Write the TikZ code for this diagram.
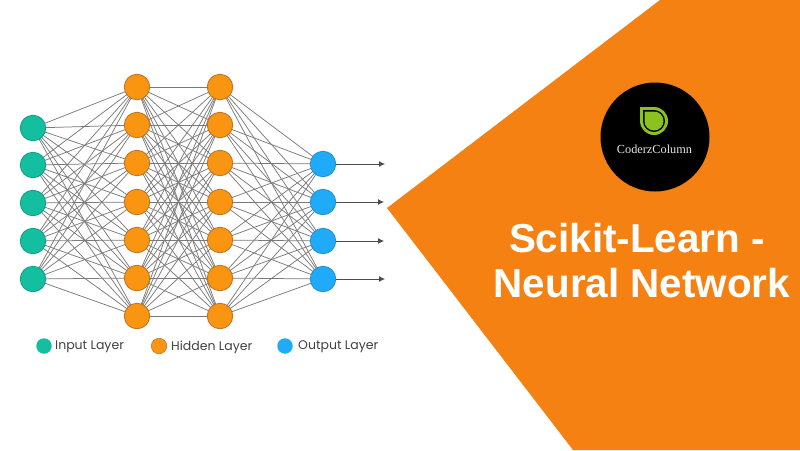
\documentclass[tikz,border=0pt]{standalone}
\usepackage{fontspec}
\setmainfont{Liberation Sans}
\newfontfamily\legendfont{Poppins}
\newfontfamily\logofont{Liberation Serif}
\usetikzlibrary{arrows.meta}
\usetikzlibrary{positioning}
\definecolor{bannerorange}{HTML}{F58113}
\definecolor{inputfill}{HTML}{14BF9F}
\definecolor{inputline}{HTML}{129C84}
\definecolor{hiddenfill}{HTML}{F99511}
\definecolor{hiddenline}{HTML}{BC7125}
\definecolor{outputfill}{HTML}{1FAAFA}
\definecolor{outputline}{HTML}{2590CC}
\definecolor{logogreen}{HTML}{8CC21E}
\definecolor{wiregray}{HTML}{7A7A7A}
\tikzset{
  neuron/.style={circle, draw, line width=0.8pt, minimum size=25.5pt, inner sep=0pt},
  dot/.style={circle, minimum size=15.5pt, inner sep=0pt},
  wire/.style={draw=wiregray, line width=0.75pt},
  legendtext/.style={right, inner sep=0pt, text=black!75, font=\legendfont\fontsize{12.5}{15}\selectfont},
  titletext/.style={text=white, inner sep=0pt, font=\bfseries\fontsize{40.4}{46}\selectfont},
}
\begin{document}
\begin{tikzpicture}[x=1pt, y=-1pt]
  \useasboundingbox (0, 0) rectangle (800, 450);
  \fill[bannerorange] (660, 0) -- (387, 208) -- (573, 450) -- (800, 450) -- (800, 0) -- cycle;

  % wires go underneath, so the neurons are placed on top of them afterwards
  \coordinate (i1) at (33, 128);
  \coordinate (i2) at (33, 165);
  \coordinate (i3) at (33, 203);
  \coordinate (i4) at (33, 241);
  \coordinate (i5) at (33, 279);
  \foreach \n/\y in {1/87, 2/125, 3/163, 4/202, 5/240, 6/278, 7/316} {
    \coordinate (a\n) at (137, \y);
    \coordinate (b\n) at (220, \y);
  }
  \coordinate (o1) at (323, 164);
  \coordinate (o2) at (323, 202);
  \coordinate (o3) at (323, 241);
  \coordinate (o4) at (323, 279);
  \foreach \n in {1,...,7} {
    \foreach \m in {1,...,5}
      \draw[wire] (i\m) -- (a\n);
    \foreach \m in {1,...,7}
      \draw[wire] (a\n) -- (b\m);
    \foreach \m in {1,...,4}
      \draw[wire] (b\n) -- (o\m);
  }

  \foreach \m in {1,...,5}
    \node[neuron, fill=inputfill, draw=inputline] (input\m) at (i\m) {};
  \foreach \n in {1,...,7} {
    \node[neuron, fill=hiddenfill, draw=hiddenline] (first\n) at (a\n) {};
    \node[neuron, fill=hiddenfill, draw=hiddenline] (second\n) at (b\n) {};
  }
  \foreach \m/\x in {1/385, 2/384, 3/384, 4/385} {
    \node[neuron, fill=outputfill, draw=outputline] (output\m) at (o\m) {};
    \coordinate (end\m) at (\x, 0 |- o\m);
    \draw[-{Latex[length=6pt, width=6pt]}, line width=0.8pt, draw=black!70, fill=black] (output\m) -- (end\m);
  }

  \node[dot, fill=inputfill] (inputdot) at (44, 346) {};
  \node[legendtext] (inputlabel) at (55, 347) {Input Layer};
  \node[dot, fill=hiddenfill, draw=hiddenline, line width=0.5pt] (hiddendot) at (159, 346) {};
  \node[legendtext] (hiddenlabel) at (171, 347) {Hidden Layer};
  \node[dot, fill=outputfill] (outputdot) at (285, 346) {};
  \node[legendtext] (outputlabel) at (298, 347) {Output Layer};

  \node[circle, fill=black, minimum size=109pt, inner sep=0pt] (badge) at (655, 137) {};
  \fill[logogreen] (640, 107) -- (654, 107) arc (-90:90:14) arc (90:180:14) -- cycle;
  \fill[black] (643, 110) -- (654, 110) arc (-90:90:11) arc (90:180:11) -- cycle;
  \fill[logogreen] (644.5, 111.5) -- (654, 111.5) arc (-90:90:9.5) arc (90:180:9.5) -- cycle;
  \node[text=white!90!black, inner sep=0pt, font=\logofont\fontsize{12.3}{14}\selectfont] (logotext) at (654.5, 149) {CoderzColumn};

  \node[titletext] (title) at (637, 238) {Scikit-Learn -};
  \node[titletext] (subtitle) at (642, 283) {Neural Network};
\end{tikzpicture}
\end{document}
